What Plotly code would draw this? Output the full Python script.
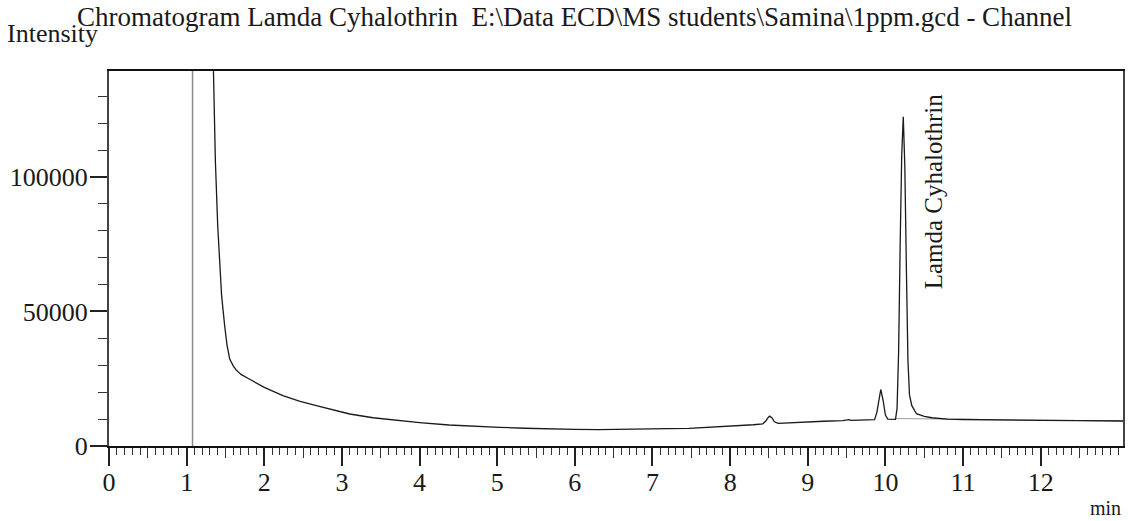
import plotly.graph_objects as go

# Retention time (min) and detector intensity
time_min = [1.33, 1.345, 1.37, 1.40, 1.42, 1.45, 1.49, 1.52, 1.555, 1.60, 1.64, 1.70, 1.80, 1.88,
            2.00, 2.24, 2.45, 2.67, 2.90, 3.10, 3.40, 3.74, 4.00, 4.38, 4.70, 5.03, 5.35, 5.67,
            6.00, 6.31, 6.60, 6.95, 7.20, 7.47, 7.80, 8.11, 8.30, 8.42, 8.46, 8.49, 8.51, 8.54,
            8.57, 8.62, 8.80, 8.97, 9.20, 9.45, 9.50, 9.53, 9.56, 9.75, 9.86, 9.89, 9.92, 9.94,
            9.97, 10.00, 10.03, 10.08, 10.13, 10.15, 10.17, 10.19, 10.21, 10.23, 10.25, 10.27,
            10.29, 10.31, 10.34, 10.40, 10.50, 10.60, 10.80, 11.00, 11.50, 12.00, 12.50, 13.06]
intensity = [160000, 140000, 106000, 82000, 69500, 56000, 44600, 37500, 32300, 29800, 28200,
             26600, 25000, 23800, 21800, 18700, 16700, 15000, 13300, 11900, 10500, 9400, 8700,
             7800, 7300, 6950, 6600, 6300, 6150, 6060, 6100, 6300, 6450, 6580, 7000, 7550, 7900,
             8250, 9300, 10600, 11100, 10400, 9000, 8400, 8700, 9000, 9200, 9400, 9700, 9800,
             9500, 9600, 9800, 12500, 18500, 21000, 17000, 11500, 10000, 9850, 9900, 14000,
             35000, 75000, 108000, 122400, 104000, 66000, 32000, 19000, 15000, 12000, 11000,
             10500, 10000, 9850, 9600, 9500, 9400, 9300]

marker_time = [1.076, 1.076]          # event marker
baseline_t = [10.14, 13.06]           # integration baseline
baseline_i = [10200, 9300]
peak_name = "Lamda Cyhalothrin"
peak_label_pos = (10.62, 94500)

x_ticks = list(range(0, 13))
y_ticks = [0, 50000, 100000]
y_tick_text = ["0", "50000", "100000"]
half_ticks = [i + 0.5 for i in range(0, 13)]

X_RANGE = [0, 13.06]
Y_RANGE = [0, 139400]
SERIF = "Liberation Serif, Times New Roman, serif"

fig = go.Figure()
fig.add_trace(go.Scatter(x=marker_time, y=Y_RANGE, mode="lines",
                         line=dict(color="#8a8a8a", width=1.5), hoverinfo="skip"))
fig.add_trace(go.Scatter(x=baseline_t, y=baseline_i, mode="lines",
                         line=dict(color="#9a9a9a", width=1), hoverinfo="skip"))
fig.add_trace(go.Scatter(x=time_min, y=intensity, mode="lines",
                         line=dict(color="#1a1a1a", width=1.3)))
fig.add_trace(go.Scatter(x=[], y=[], xaxis="x2", yaxis="y", showlegend=False))

fig.update_layout(
    width=1128, height=521,
    margin=dict(l=109, r=3, t=71, b=75),
    paper_bgcolor="white", plot_bgcolor="white",
    showlegend=False,
    font=dict(family=SERIF, size=26, color="#1a1a1a"),
    xaxis=dict(range=X_RANGE, tickvals=x_ticks, ticks="outside", ticklen=18, tickwidth=1.5,
               tickcolor="#222", showgrid=False, zeroline=False, showline=True,
               linecolor="#111", linewidth=1.5, mirror=True, ticklabelstandoff=-6,
               tickfont=dict(family=SERIF, size=26, color="#1a1a1a"),
               minor=dict(dtick=0.1, tick0=0, ticks="outside", ticklen=7, tickwidth=1,
                          tickcolor="#333", showgrid=False)),
    xaxis2=dict(range=X_RANGE, overlaying="x", anchor="y", side="bottom",
                tickvals=half_ticks, ticks="outside", ticklen=11, tickwidth=1,
                tickcolor="#333", showticklabels=False, showgrid=False,
                zeroline=False, showline=False),
    yaxis=dict(range=Y_RANGE, tickvals=y_ticks, ticktext=y_tick_text, ticks="outside",
               ticklen=17, tickwidth=1.5, ticklabelstandoff=-3,
               tickcolor="#222", showgrid=False, zeroline=False, showline=True,
               linecolor="#444", linewidth=2, mirror=True,
               tickfont=dict(family=SERIF, size=26, color="#1a1a1a"),
               minor=dict(dtick=10000, tick0=0, ticks="outside", ticklen=9, tickwidth=1,
                          tickcolor="#333", showgrid=False)),
)

fig.add_annotation(text="Chromatogram Lamda Cyhalothrin  E:\\Data ECD\\MS students\\Samina\\1ppm.gcd - Channel",
                   xref="paper", yref="paper", x=(75 - 109) / 1016, y=(446 - 17) / 375,
                   xanchor="left", yanchor="middle", showarrow=False,
                   font=dict(family=SERIF, size=27, color="#1a1a1a"))
fig.add_annotation(text="Intensity", xref="paper", yref="paper",
                   x=(5 - 109) / 1016, y=(446 - 34) / 375, xanchor="left", yanchor="middle",
                   showarrow=False, font=dict(family=SERIF, size=26, color="#1a1a1a"))
fig.add_annotation(text="min", xref="paper", yref="paper", x=1.0, y=(446 - 508) / 375,
                   xanchor="right", yanchor="middle", showarrow=False,
                   font=dict(family=SERIF, size=20, color="#1a1a1a"))
fig.add_annotation(text=peak_name, x=peak_label_pos[0], y=peak_label_pos[1], xref="x", yref="y",
                   textangle=-90, showarrow=False, xanchor="center", yanchor="middle",
                   font=dict(family=SERIF, size=25, color="#1a1a1a"))

fig.write_html("out.html", config={"displayModeBar": False},
               post_script="document.body.style.margin='0';")
